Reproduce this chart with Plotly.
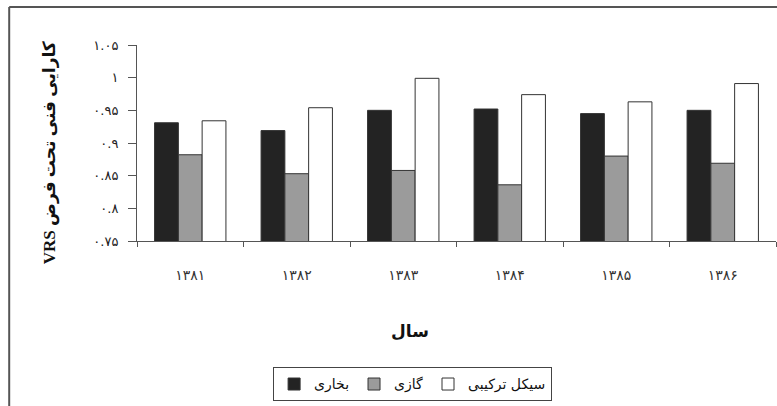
import plotly.graph_objects as go

years = ["۱۳۸۱", "۱۳۸۲", "۱۳۸۳", "۱۳۸۴", "۱۳۸۵", "۱۳۸۶"]
steam = [0.931, 0.919, 0.950, 0.952, 0.945, 0.950]      # بخاری
gas = [0.882, 0.853, 0.858, 0.836, 0.880, 0.869]        # گازی
combined = [0.934, 0.954, 0.999, 0.974, 0.963, 0.991]   # سیکل ترکیبی

series_names = ["بخاری", "گازی", "سیکل ترکیبی"]
series_colors = ["#232323", "#9b9b9b", "#ffffff"]

y_tickvals = [0.75, 0.8, 0.85, 0.9, 0.95, 1.0, 1.05]
y_ticktext = ["۰.۷۵", "۰.۸", "۰.۸۵", "۰.۹", "۰.۹۵", "۱", "۱.۰۵"]

AR_FONT = "DejaVu Sans"

fig = go.Figure()
for name, vals, col in zip(series_names, [steam, gas, combined], series_colors):
    fig.add_trace(go.Bar(
        x=years, y=vals, name=name,
        marker=dict(color=col, line=dict(color="#333333", width=1)),
    ))

fig.update_layout(
    width=777, height=406,
    margin=dict(l=137, r=1, t=45, b=165),
    paper_bgcolor="white", plot_bgcolor="white",
    barmode="group", bargap=0.33, bargroupgap=0,
    showlegend=True,
    legend=dict(
        orientation="h", x=0.213, xanchor="left", y=-0.645, yanchor="top",
        bordercolor="#444444", borderwidth=1, bgcolor="rgba(255,255,255,0)",
        font=dict(family=AR_FONT, size=14, color="#111111"),
        traceorder="normal", itemwidth=30,
    ),
    font=dict(family=AR_FONT, color="#222222"),
)

fig.update_xaxes(
    showgrid=False, showline=True, linecolor="#555555", linewidth=1,
    ticks="outside", ticklen=5, tickcolor="#555555", tickson="boundaries",
    tickfont=dict(family=AR_FONT, size=14, color="#333333"),
    ticklabelstandoff=21,
)
fig.update_yaxes(
    range=[0.75, 1.05], showgrid=False, zeroline=False,
    showline=True, linecolor="#555555", linewidth=1,
    ticks="outside", ticklen=8, tickcolor="#555555",
    tickvals=y_tickvals, ticktext=y_ticktext,
    tickfont=dict(family=AR_FONT, size=13, color="#222222"),
    ticklabelstandoff=7,
)

# axis titles
fig.add_annotation(
    text="<b>VRS کارایی فنی تحت فرض</b>", textangle=-90,
    xref="paper", yref="paper", x=-0.137, y=0.45,
    showarrow=False, xanchor="center", yanchor="middle",
    font=dict(family="Liberation Serif, DejaVu Sans", size=17, color="#111111"),
)
fig.add_annotation(
    text="<b>سال</b>",
    xref="paper", yref="paper", x=0.427, y=-0.46,
    showarrow=False, xanchor="center", yanchor="middle",
    font=dict(family=AR_FONT, size=17, color="#111111"),
)

# outer frame (top and left edges of the original chart box)
fig.add_shape(type="line", xref="paper", yref="paper",
              x0=-0.2, x1=1.01, y0=1.194, y1=1.194,
              line=dict(color="#555555", width=2))
fig.add_shape(type="line", xref="paper", yref="paper",
              x0=-0.2, x1=-0.2, y0=1.194, y1=-0.9,
              line=dict(color="#555555", width=2))

fig.write_html("out.html")
